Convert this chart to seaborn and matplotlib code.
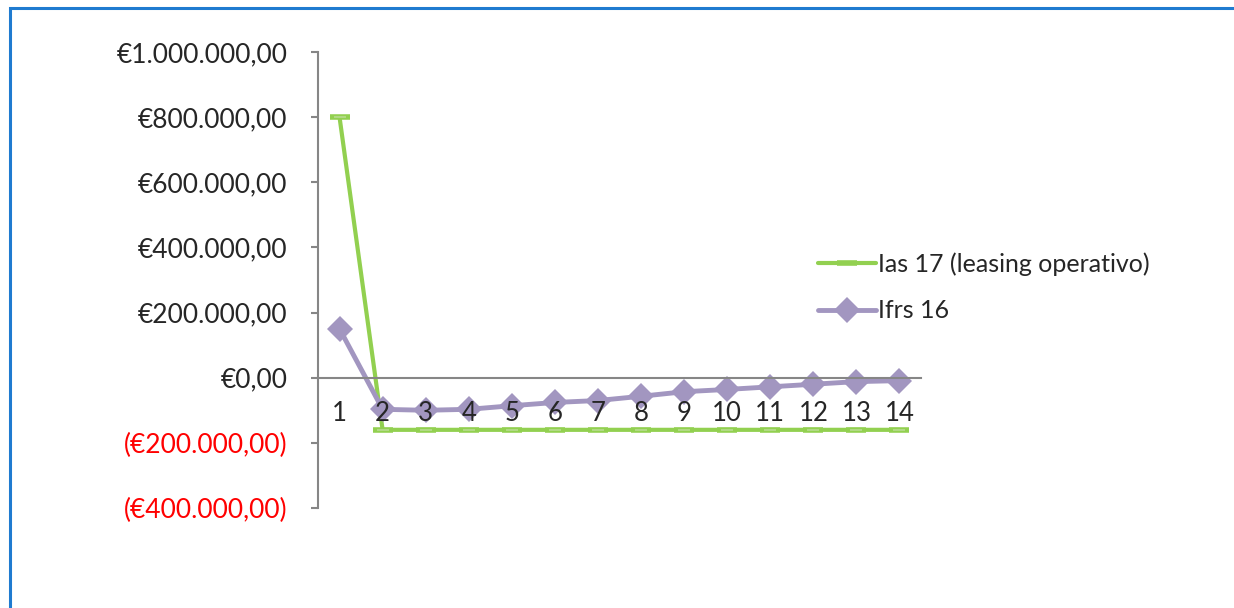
import matplotlib
matplotlib.use("Agg")
import matplotlib.pyplot as plt
import matplotlib.patches as patches
import pandas as pd
import seaborn as sns

periods = list(range(1, 15))
ias17 = [800000] + [-160000] * 13
ifrs16 = [150000, -97000, -100000, -97000, -86000, -76000, -70000,
          -57000, -43000, -36000, -28000, -20000, -12000, -9000]
y_ticks = [-400000, -200000, 0, 200000, 400000, 600000, 800000, 1000000]
labels = ["Ias 17 (leasing operativo)", "Ifrs 16"]

green = "#92D050"
purple = "#A296C0"
grey = "#868686"


def euro(v):
    s = f"{abs(v):,.2f}".replace(",", "X").replace(".", ",").replace("X", ".")
    return f"(€{s})" if v < 0 else f"€{s}"


sns.set_style("white")
plt.rcParams["font.family"] = ["Lato", "DejaVu Sans"]

df = pd.DataFrame({"period": periods, "ias17": ias17, "ifrs16": ifrs16})

fig = plt.figure(figsize=(12.34, 6.08), dpi=100)
ax = fig.add_axes([318 / 1234, 100 / 608, 603 / 1234, 456 / 608])
ax.set_axisbelow(False)

sns.lineplot(data=df, x="period", y="ias17", ax=ax, color=green, linewidth=3,
             marker="_", markersize=15, markeredgewidth=4, markeredgecolor=green,
             label=labels[0])
sns.lineplot(data=df, x="period", y="ias17", ax=ax, color="none", linewidth=0,
             marker="_", markersize=8, markeredgewidth=1.2, markeredgecolor="#B8DC90",
             legend=False)
sns.lineplot(data=df, x="period", y="ifrs16", ax=ax, color=purple, linewidth=3.5,
             marker="D", markersize=13, markeredgewidth=0, markerfacecolor=purple,
             label=labels[1])

ax.set_xlim(0.5, 14.5)
ax.set_ylim(-400000, 1000000)
ax.set_xlabel("")
ax.set_ylabel("")

for side in ["top", "right"]:
    ax.spines[side].set_visible(False)
ax.spines["bottom"].set_position(("data", 0))
for side in ["left", "bottom"]:
    ax.spines[side].set_color(grey)
    ax.spines[side].set_linewidth(1.5)

ax.set_xticks(periods)
ax.set_xticklabels([str(p) for p in periods], fontsize=18.5)
ax.set_xticks([p - 0.5 for p in periods] + [14.5], minor=True)
ax.tick_params(axis="x", which="major", length=0, pad=17)
ax.tick_params(axis="x", which="minor", length=5, width=1.5, color=grey,
               direction="out")

ax.set_yticks(y_ticks)
ax.set_yticklabels([euro(v) for v in y_ticks], fontsize=19)
ax.tick_params(axis="y", length=5, width=1.5, color=grey, direction="out", pad=17,
               left=True)
for lab, v in zip(ax.get_yticklabels(), y_ticks):
    if v < 0:
        lab.set_color("red")

leg = ax.legend(loc="upper left", bbox_to_anchor=(808 / 1234, 366 / 608),
                bbox_transform=fig.transFigure, frameon=False, fontsize=18,
                handlelength=2.3, handletextpad=0.1, labelspacing=0.95,
                borderaxespad=0)

fig.patches.append(patches.Rectangle((9.5 / 1234, -0.1), 1.2, (600 / 608) + 0.1,
                                     transform=fig.transFigure, fill=False,
                                     edgecolor="#1F7BD0", linewidth=2.2))

fig.savefig("out.png", dpi=100)
